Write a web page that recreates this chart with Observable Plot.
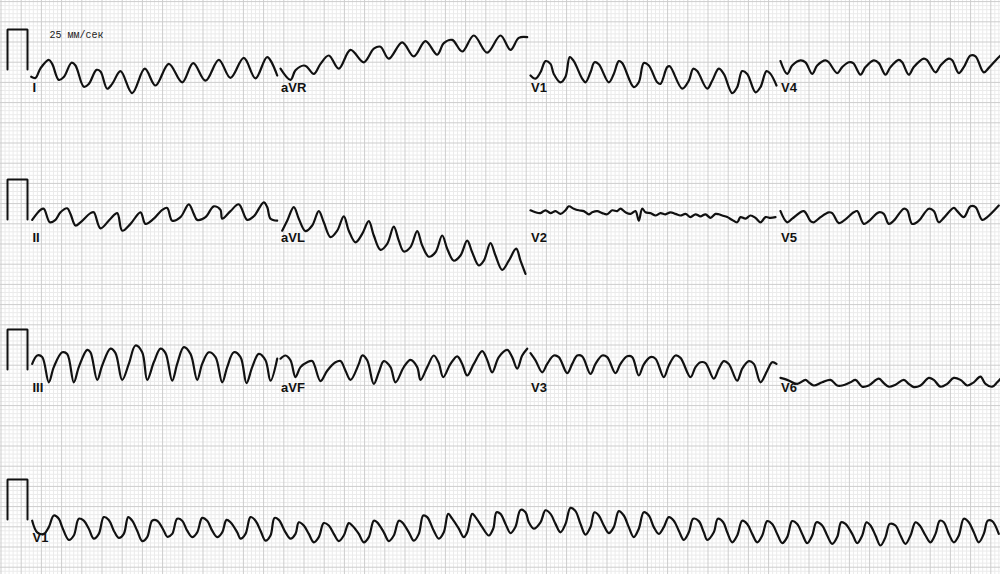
<!DOCTYPE html>
<html><head><meta charset="utf-8">
<script src="https://cdn.jsdelivr.net/npm/d3@7"></script>
<script src="https://cdn.jsdelivr.net/npm/@observablehq/plot@0.6"></script>
<style>html,body{margin:0;padding:0;background:#fff;}#chart svg{display:block;}</style>
</head><body><div id="chart"></div>
<script>
// ---- data: [time ms from lead start, amplitude mV] ----
const leadI = [[7,-0.18],[50,-0.21],[100,0.03],[183,0.24],[217,0.14],[283,-0.26],[333,-0.19],[410,0.17],[450,0.10],[533,-0.43],[583,-0.36],[660,-0.01],[700,-0.05],[767,-0.48],[817,-0.36],[900,-0.04],[1017,-0.59],[1143,0.02],[1250,-0.40],[1383,0.14],[1517,-0.32],[1627,0.16],[1750,-0.28],[1883,0.24],[2000,-0.21],[2133,0.29],[2250,-0.22],[2367,0.31],[2467,-0.15]];
const leadAVR = [[0,0.02],[100,-0.26],[150,-0.02],[233,0.10],[267,0.06],[333,-0.11],[400,0.14],[483,0.35],[583,0.02],[700,0.49],[833,0.18],[933,0.52],[1000,0.57],[1083,0.27],[1217,0.68],[1333,0.33],[1450,0.71],[1567,0.37],[1633,0.66],[1717,0.74],[1817,0.45],[1933,0.85],[2067,0.42],[2200,0.85],[2300,0.49],[2383,0.79],[2467,0.81]];
const leadV1 = [[0,-0.15],[50,-0.23],[100,-0.07],[150,0.21],[200,0.14],[233,-0.11],[300,-0.32],[350,-0.18],[393,0.31],[433,0.21],[517,-0.23],[550,-0.32],[600,-0.07],[640,0.18],[683,0.13],[783,-0.32],[833,-0.11],[883,0.21],[917,0.16],[1033,-0.44],[1083,-0.32],[1133,0.16],[1183,0.10],[1267,-0.32],[1300,-0.36],[1367,0.06],[1393,0.08],[1517,-0.48],[1583,-0.28],[1627,0.02],[1667,-0.04],[1767,-0.48],[1817,-0.28],[1883,0.02],[1933,-0.11],[2017,-0.59],[2067,-0.44],[2117,-0.04],[2167,-0.11],[2250,-0.57],[2300,-0.44],[2360,-0.04],[2400,-0.11],[2460,-0.40]];
const leadV4 = [[0,0.21],[67,-0.11],[117,0.10],[200,0.23],[250,0.18],[317,-0.11],[367,0.10],[450,0.23],[483,0.18],[567,-0.09],[617,0.06],[683,0.18],[727,0.16],[800,-0.13],[850,0.06],[933,0.23],[983,0.16],[1050,-0.13],[1100,0.06],[1183,0.24],[1217,0.18],[1283,-0.13],[1333,0.06],[1433,0.27],[1467,0.23],[1550,-0.07],[1600,0.10],[1683,0.27],[1717,0.23],[1783,-0.09],[1833,0.06],[1900,0.35],[1950,0.33],[2033,-0.07],[2083,0.04],[2167,0.27],[2200,0.35]];
const leadII = [[17,-0.01],[100,0.24],[133,0.27],[193,-0.07],[250,-0.01],[300,0.18],[367,0.28],[400,0.14],[450,-0.15],[500,-0.07],[600,0.16],[633,0.18],[700,-0.22],[800,0.02],[867,0.16],[917,-0.28],[1000,-0.11],[1100,0.18],[1150,-0.11],[1233,0.02],[1317,0.24],[1367,0.29],[1417,-0.03],[1500,0.06],[1583,0.38],[1633,0.14],[1667,-0.01],[1750,0.06],[1833,0.33],[1900,0.24],[1917,0.02],[2000,0.21],[2083,0.38],[2167,-0.01],[2233,0.08],[2333,0.43],[2367,0.31],[2400,0.02],[2467,-0.03]];
const leadAVL = [[17,-0.28],[67,-0.03],[133,0.31],[183,0.02],[250,-0.29],[317,-0.15],[383,0.21],[433,-0.07],[500,-0.44],[567,-0.28],[633,0.08],[683,-0.28],[750,-0.57],[817,-0.36],[883,-0.04],[933,-0.40],[1000,-0.76],[1067,-0.61],[1133,-0.18],[1183,-0.53],[1233,-0.80],[1300,-0.69],[1367,-0.29],[1417,-0.65],[1483,-0.93],[1550,-0.82],[1617,-0.40],[1667,-0.73],[1733,-1.03],[1800,-0.90],[1867,-0.53],[1917,-0.82],[1983,-1.15],[2033,-1.03],[2100,-0.59],[2150,-0.90],[2217,-1.26],[2283,-1.03],[2357,-0.73],[2400,-1.03],[2450,-1.36]];
const leadV2 = [[0,0.23],[50,0.18],[100,0.16],[150,0.23],[200,0.16],[250,0.21],[300,0.14],[350,0.23],[383,0.33],[433,0.27],[483,0.23],[533,0.21],[583,0.13],[617,0.18],[667,0.21],[717,0.16],[767,0.13],[817,0.23],[867,0.21],[900,0.27],[950,0.18],[1000,0.14],[1050,0.21],[1083,-0.03],[1117,0.27],[1150,0.18],[1200,0.16],[1250,0.10],[1300,0.16],[1350,0.13],[1400,0.18],[1450,0.14],[1500,0.10],[1550,0.14],[1600,0.06],[1650,0.13],[1700,0.08],[1750,0.13],[1800,0.04],[1850,0.14],[1883,0.13],[1917,0.10],[1967,0.06],[2017,-0.01],[2067,-0.07],[2100,0.06],[2150,0.02],[2200,0.10],[2250,0.04],[2300,-0.07],[2350,0.06],[2400,0.04],[2450,0.06]];
const leadV5 = [[0,0.21],[67,-0.07],[117,0.02],[233,0.21],[300,-0.04],[333,-0.07],[400,0.06],[483,0.18],[517,0.16],[583,-0.09],[633,-0.03],[733,0.18],[767,0.21],[833,-0.11],[883,-0.04],[983,0.18],[1033,0.14],[1083,-0.11],[1133,-0.03],[1233,0.27],[1267,0.23],[1317,-0.11],[1383,-0.03],[1483,0.27],[1533,0.21],[1583,-0.07],[1633,0.04],[1733,0.29],[1767,0.21],[1833,0.06],[1900,0.33],[1950,0.31],[2017,-0.01],[2067,0.06],[2183,0.35]];
const leadIII = [[17,0.14],[67,0.35],[117,0.31],[183,-0.32],[233,0.06],[317,0.43],[367,0.39],[433,-0.32],[483,0.06],[567,0.49],[600,0.43],[667,-0.26],[717,0.10],[800,0.52],[850,0.41],[917,-0.26],[983,0.14],[1050,0.60],[1117,0.43],[1167,-0.26],[1233,0.18],[1300,0.52],[1350,0.41],[1417,-0.28],[1467,0.14],[1533,0.56],[1600,0.39],[1667,-0.26],[1717,0.14],[1783,0.43],[1850,0.31],[1917,-0.32],[1967,0.06],[2033,0.43],[2100,0.31],[2160,-0.34],[2217,0.06],[2283,0.39],[2350,0.23],[2400,-0.28],[2467,0.27]];
const leadAVF = [[0,0.27],[50,0.35],[100,0.23],[150,-0.19],[200,0.06],[267,0.18],[317,0.21],[400,-0.29],[467,-0.03],[550,0.18],[600,0.21],[650,-0.03],[700,-0.26],[783,0.14],[817,0.35],[867,0.23],[933,-0.36],[983,-0.07],[1033,0.21],[1100,0.06],[1150,-0.32],[1233,0.06],[1300,0.24],[1367,0.06],[1400,-0.26],[1467,0.06],[1533,0.35],[1583,0.16],[1627,-0.19],[1700,0.14],[1767,0.33],[1817,0.14],[1867,-0.15],[1933,0.14],[2017,0.46],[2067,0.24],[2117,-0.07],[2183,0.31],[2267,0.49],[2317,0.31],[2367,0.02],[2417,0.35],[2467,0.52]];
const leadV3 = [[0,0.41],[50,0.23],[117,-0.07],[167,0.14],[233,0.35],[283,0.31],[367,-0.09],[417,0.14],[467,0.35],[517,0.33],[600,-0.11],[650,0.14],[717,0.35],[767,0.31],[850,-0.09],[900,0.14],[967,0.33],[1017,0.31],[1083,-0.15],[1133,0.13],[1200,0.31],[1250,0.27],[1333,-0.19],[1383,0.10],[1450,0.35],[1500,0.29],[1600,-0.19],[1650,0.06],[1700,0.18],[1750,0.16],[1833,-0.23],[1883,0.02],[1933,0.21],[1983,0.14],[2067,-0.28],[2117,0.02],[2183,0.21],[2233,0.14],[2300,-0.32],[2367,-0.03],[2417,0.18],[2460,0.14]];
const leadV6 = [[0,-0.21],[67,-0.26],[167,-0.36],[250,-0.26],[283,-0.32],[333,-0.40],[417,-0.32],[500,-0.26],[567,-0.40],[617,-0.40],[700,-0.32],[750,-0.26],[817,-0.43],[883,-0.40],[983,-0.23],[1033,-0.34],[1083,-0.43],[1150,-0.38],[1233,-0.26],[1283,-0.36],[1333,-0.44],[1400,-0.40],[1483,-0.21],[1533,-0.26],[1600,-0.43],[1667,-0.36],[1733,-0.21],[1800,-0.26],[1867,-0.40],[1933,-0.32],[2000,-0.18],[2050,-0.36],[2117,-0.43],[2167,-0.32],[2200,-0.23]];
const rhythmV1 = [[17,-0.03],[67,-0.32],[133,-0.36],[183,-0.19],[233,0.10],[283,0.02],[317,-0.19],[383,-0.51],[433,-0.40],[483,0.02],[533,-0.03],[583,-0.23],[633,-0.48],[683,-0.36],[733,0.06],[783,-0.01],[833,-0.28],[883,-0.46],[933,-0.36],[977,0.06],[1017,-0.03],[1067,-0.28],[1117,-0.54],[1167,-0.44],[1217,-0.03],[1267,-0.03],[1333,-0.28],[1367,-0.43],[1417,-0.36],[1467,0.02],[1517,-0.03],[1567,-0.28],[1617,-0.44],[1667,-0.32],[1717,0.04],[1767,-0.03],[1817,-0.28],[1867,-0.44],[1917,-0.32],[1960,-0.01],[2000,-0.07],[2067,-0.32],[2100,-0.48],[2150,-0.36],[2200,0.06],[2250,-0.03],[2300,-0.28],[2350,-0.53],[2400,-0.40],[2440,0.04],[2483,-0.01],[2550,-0.32],[2600,-0.48],[2650,-0.36],[2683,-0.07],[2733,-0.15],[2783,-0.36],[2833,-0.57],[2883,-0.44],[2933,-0.09],[2983,-0.15],[3033,-0.36],[3083,-0.54],[3133,-0.40],[3183,-0.09],[3217,-0.15],[3283,-0.36],[3333,-0.57],[3383,-0.44],[3433,-0.03],[3467,-0.07],[3533,-0.32],[3583,-0.54],[3633,-0.40],[3683,-0.03],[3717,-0.07],[3783,-0.32],[3833,-0.53],[3883,-0.36],[3927,0.10],[3967,0.06],[4033,-0.28],[4083,-0.48],[4133,-0.32],[4177,0.14],[4217,0.02],[4283,-0.23],[4333,-0.44],[4367,-0.32],[4417,0.14],[4450,0.06],[4517,-0.19],[4583,-0.40],[4627,-0.23],[4660,0.18],[4700,0.14],[4750,-0.11],[4800,-0.34],[4850,-0.18],[4900,0.24],[4950,0.18],[4983,-0.07],[5033,-0.23],[5100,-0.07],[5150,0.23],[5200,0.14],[5250,-0.11],[5300,-0.32],[5350,-0.11],[5400,0.29],[5450,0.21],[5500,-0.11],[5550,-0.38],[5600,-0.19],[5640,0.18],[5683,0.10],[5733,-0.15],[5783,-0.34],[5833,-0.19],[5883,0.21],[5933,0.10],[5983,-0.19],[6033,-0.44],[6083,-0.23],[6133,0.18],[6183,0.10],[6233,-0.19],[6283,-0.36],[6333,-0.19],[6383,0.06],[6433,-0.03],[6483,-0.28],[6533,-0.51],[6583,-0.32],[6627,0.02],[6683,-0.04],[6733,-0.32],[6767,-0.51],[6833,-0.32],[6873,0.02],[6927,-0.07],[6967,-0.32],[7017,-0.57],[7067,-0.40],[7117,-0.03],[7167,-0.11],[7217,-0.36],[7267,-0.57],[7317,-0.40],[7367,-0.04],[7417,-0.11],[7467,-0.36],[7517,-0.59],[7567,-0.44],[7617,-0.04],[7667,-0.11],[7717,-0.36],[7767,-0.59],[7817,-0.40],[7860,-0.07],[7917,-0.15],[7967,-0.40],[8017,-0.61],[8067,-0.44],[8107,-0.07],[8150,-0.11],[8217,-0.36],[8267,-0.59],[8317,-0.40],[8360,-0.07],[8400,-0.15],[8450,-0.40],[8500,-0.65],[8550,-0.44],[8593,-0.11],[8650,-0.15],[8700,-0.40],[8750,-0.61],[8800,-0.40],[8850,-0.07],[8893,-0.15],[8950,-0.40],[9000,-0.57],[9050,-0.36],[9093,-0.03],[9133,-0.07],[9183,-0.36],[9233,-0.57],[9283,-0.40],[9333,0.02],[9383,-0.07],[9433,-0.32],[9483,-0.57],[9533,-0.36],[9573,-0.03],[9617,-0.04],[9683,-0.36]];
const calPulse = [[-230,0],[-230,1],[-30,1],[-30,0]];
const leadNames = ["I","aVR","V1","V4","II","aVL","V2","V5","III","aVF","V3","V6","V1"];
const leadSeries = [leadI,leadAVR,leadV1,leadV4,leadII,leadAVL,leadV2,leadV5,leadIII,leadAVF,leadV3,leadV6,rhythmV1];
const speedText = "25 мм/сек";

// ---- layout ----
const W = 1000, H = 574;
const PX_PER_MS = 0.1, PX_PER_MV = 40;
const X0 = 30;                    // px of t=0 in first column
const COL_MS = 2500;
const ROW_BASE = [69, 219, 369, 519];
const GRID = 4.04, GX0 = 0.5, GY0 = 1.1;

const xOf = px => (px - X0) / PX_PER_MS;   // px -> domain ms
const yOf = py => -py / PX_PER_MV;         // px -> domain

const traces = [], labels = [], pulses = [];
leadSeries.forEach((s, i) => {
  const row = Math.floor(i / 4), col = i % 4;
  const base = yOf(ROW_BASE[row]);
  s.forEach(([t, mv]) => traces.push({lead: i, t: col * COL_MS + t, v: base + mv}));
  labels.push({name: leadNames[i], t: col * COL_MS + (col === 0 ? 20 : 5), v: base});
});
ROW_BASE.forEach((b, r) => calPulse.forEach(([t, mv]) => pulses.push({row: r, t, v: yOf(b) + mv})));

const gxs = d3.range(0, 260).map(k => GX0 + GRID * k).filter(p => p <= W);
const gys = d3.range(0, 150).map(k => GY0 + GRID * k).filter(p => p <= H);
const minorX = gxs.filter((p, k) => k % 5 !== 0).map(xOf), majorX = gxs.filter((p, k) => k % 5 === 0).map(xOf);
const minorY = gys.filter((p, k) => k % 5 !== 0).map(yOf), majorY = gys.filter((p, k) => k % 5 === 0).map(yOf);

const chart = Plot.plot({
  width: W, height: H, margin: 0,
  style: {background: "#fff"},
  x: {domain: [xOf(0), xOf(W)], axis: null},
  y: {domain: [yOf(H), yOf(0)], axis: null},
  marks: [
    Plot.ruleX(minorX, {stroke: "#ebebeb", strokeWidth: 1}),
    Plot.ruleY(minorY, {stroke: "#ebebeb", strokeWidth: 1}),
    Plot.ruleX(majorX, {stroke: "#cdcdcd", strokeWidth: 1}),
    Plot.ruleY(majorY, {stroke: "#cdcdcd", strokeWidth: 1}),
    Plot.line(pulses, {x: "t", y: "v", z: "row", stroke: "#111", strokeWidth: 2, strokeLinejoin: "miter"}),
    Plot.line(traces, {x: "t", y: "v", z: "lead", curve: "catmull-rom", stroke: "#111", strokeWidth: 2.2}),
    Plot.text(labels, {x: "t", y: "v", text: "name", dy: 18, textAnchor: "start", fill: "#111",
      fontSize: 13, fontWeight: "bold", fontFamily: "Liberation Sans, Arial, sans-serif"}),
    Plot.text([speedText], {frameAnchor: "top-left", dx: 49, dy: 30, textAnchor: "start",
      fontSize: 10, fontFamily: "Liberation Mono, monospace", fill: "#222"})
  ]
});
document.getElementById("chart").appendChild(chart);
</script></body></html>
